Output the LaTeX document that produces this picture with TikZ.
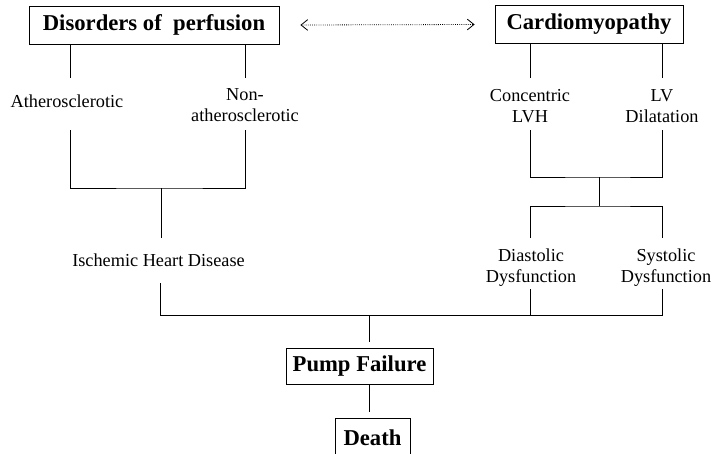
\documentclass[tikz,border=0pt]{standalone}
\usepackage{fontspec}
\setmainfont{Liberation Serif}
\usetikzlibrary{arrows.meta}
\begin{document}
\begin{tikzpicture}[x=0.75pt,y=-0.75pt, line width=0.6pt,
  box/.style={draw, font=\fontsize{17}{20}\selectfont\bfseries, inner sep=0pt},
  lbl/.style={font=\fontsize{13.7}{15.75}\selectfont, align=center, inner sep=0pt},
  barb/.tip={Straight Barb[length=5pt,width=8pt]}]
\useasboundingbox (0,0) rectangle (712,453);
% boxes
\node[box, minimum width=187.5pt, minimum height=28.5pt] (dis) at (154,25) {Disorders of\ \ perfusion};
\node[box, minimum width=141pt, minimum height=29pt] (car) at (589,24.5) {Cardiomyopathy};
\node[box, minimum width=110.25pt, minimum height=27pt] (pump) at (359.5,366) {Pump Failure};
\node[box, minimum width=56.25pt, minimum height=30pt] (death) at (372.5,438) {Death};
% labels
\node[lbl, anchor=base] (ath) at (67,107) {Atherosclerotic};
\node[lbl] (non) at (245,105.5) {Non-\\atherosclerotic};
\node[lbl] (conc) at (530,106) {Concentric\\LVH};
\node[lbl] (lv) at (662,106) {LV\\Dilatation};
\node[lbl, anchor=base] (isch) at (158.5,266) {Ischemic Heart Disease};
\node[lbl] (dia) at (531,268) {Diastolic\\Dysfunction};
\node[lbl] (sys) at (666,268) {Systolic\\Dysfunction};
% coordinates
\coordinate (a1) at (70,78);  \coordinate (a2) at (70,130);
\coordinate (n1) at (245,78); \coordinate (n2) at (245,130);
\coordinate (j1) at (161,188); \coordinate (i1) at (161,238);
\coordinate (i2) at (160,283);
\coordinate (c1) at (530,78); \coordinate (c2) at (530,130);
\coordinate (l1) at (662,78); \coordinate (l2) at (662,130);
\coordinate (k1) at (599,177); \coordinate (k2) at (599,206);
\coordinate (d1) at (530,238); \coordinate (d2) at (530,289);
\coordinate (s1) at (662,238); \coordinate (s2) at (662,289);
\coordinate (bot) at (662,315);
\coordinate (pstem) at (369,342);
% arrow
\draw[densely dotted, {barb}-{barb}] ([xshift=15.75pt]dis.east) -- ([xshift=-15pt]car.west);
% left tree
\draw (dis.south -| a1) -- (a1);
\draw (dis.south -| n1) -- (n1);
\draw (a2) |- (j1) -| (n2);
\draw (j1) -- (i1);
% right tree
\draw (car.south -| c1) -- (c1);
\draw (car.south -| l1) -- (l1);
\draw (c2) |- (k1) -| (l2);
\draw (k1) -- (k2);
\draw (d1) |- (k2) -| (s1);
% bottom
\draw (i2) |- (bot) -- (s2);
\draw (d2) -- (d2 |- bot);
\draw (pstem |- bot) -- (pstem);
\draw (pump.south -| pstem) -- ([yshift=4.5pt]death.north -| pstem);
\end{tikzpicture}
\end{document}
